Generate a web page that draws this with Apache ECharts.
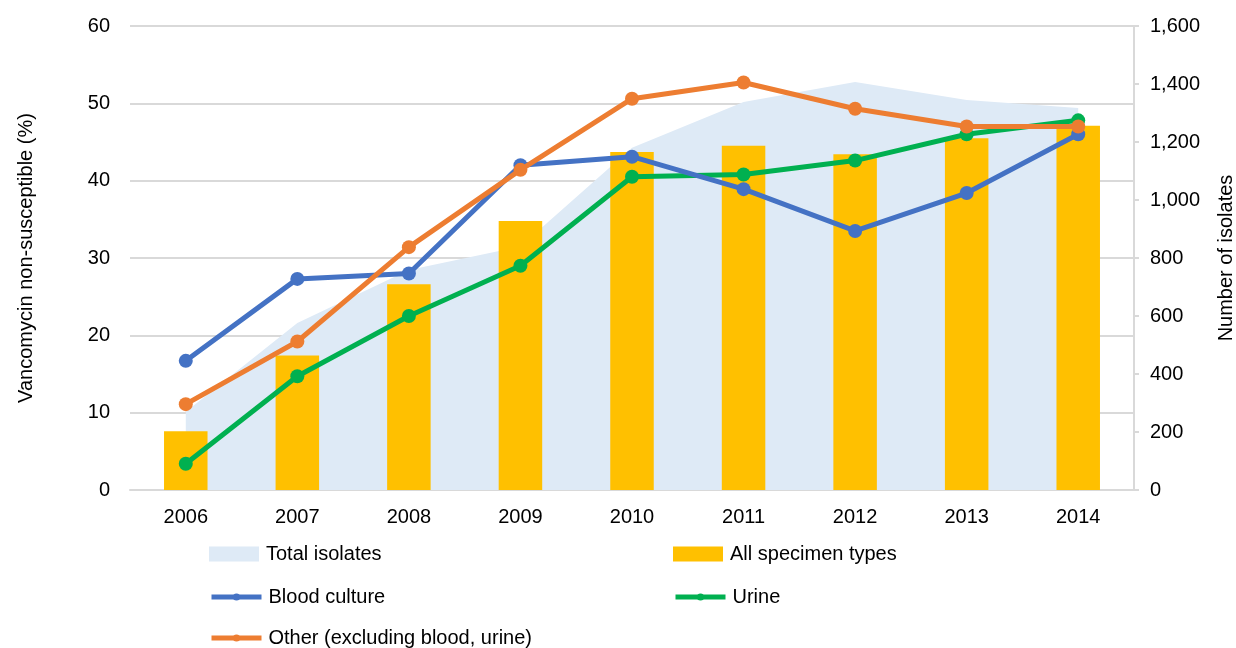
<!DOCTYPE html>
<html>
<head>
<meta charset="utf-8">
<script src="https://cdn.jsdelivr.net/npm/echarts@6/dist/echarts.min.js"></script>
<style>html,body{margin:0;padding:0;background:#fff}#c{width:1236px;height:648px}</style>
</head>
<body>
<div id="c"></div>
<script>
const years = ['2006','2007','2008','2009','2010','2011','2012','2013','2014'];
const totalIsolates = [270, 576, 759, 840, 1180, 1338, 1407, 1345, 1317];
const allSpecimen = [7.6, 17.4, 26.6, 34.8, 43.7, 44.5, 43.4, 45.5, 47.1];
const bloodCulture = [16.7, 27.3, 28.0, 42.0, 43.1, 38.9, 33.5, 38.4, 46.0];
const urine = [3.4, 14.7, 22.5, 29.0, 40.5, 40.8, 42.6, 46.0, 47.8];
const other = [11.1, 19.2, 31.4, 41.4, 50.6, 52.7, 49.3, 47.0, 47.0];
const leftTicks = [0, 60, 10];
const rightTicks = [0, 1600, 200];

const font = 'Liberation Sans, Arial, sans-serif';
const txt = {color:'#000', fontFamily: font, fontSize: 20};
const chart = echarts.init(document.getElementById('c'));
function lg(name, left, top, isRect, color) {
  const o = {data:[{name, icon: isRect ? 'rect' : undefined}], left, top,
    itemWidth: 50, itemHeight: isRect ? 15 : 9, itemGap: 0,
    textStyle: Object.assign({}, txt, {padding:[0,0,0,2]})};
  if (!isRect) o.lineStyle = {width: 5, color};
  return o;
}
const lineSeries = (name, data, color, z) => ({
  name, type:'line', data, yAxisIndex:0, z,
  symbol:'circle', symbolSize: 14,
  lineStyle:{color, width:5}, itemStyle:{color}
});
chart.setOption({
  animation:false,
  textStyle: txt,
  grid:{left:130, right:102, top:26, bottom:158, outerBoundsMode:'none', containLabel:false},
  legend:[
    lg('Total isolates', 204, 539, true),
    lg('All specimen types', 668, 539, true),
    lg('Blood culture', 204, 582, false, '#4472c4'),
    lg('Urine', 668, 582, false, '#00b050'),
    lg('Other (excluding blood, urine)', 204, 623, false, '#ed7d31')
  ],
  xAxis:{type:'category', data: years, boundaryGap:true,
    axisLine:{lineStyle:{color:'#d9d9d9', width:2}}, axisTick:{show:false},
    axisLabel:Object.assign({}, txt, {margin:17})},
  yAxis:[
    {type:'value', min:leftTicks[0], max:leftTicks[1], interval:leftTicks[2],
     name:'Vancomycin non-susceptible (%)', nameLocation:'middle', nameRotate:90, nameGap:94,
     nameTextStyle: txt,
     axisLine:{show:false}, axisTick:{show:false},
     axisLabel:Object.assign({}, txt, {margin:20}),
     splitLine:{lineStyle:{color:'#d9d9d9', width:2}}},
    {type:'value', min:rightTicks[0], max:rightTicks[1], interval:rightTicks[2], position:'right',
     name:'Number of isolates', nameLocation:'middle', nameRotate:90, nameGap:82,
     nameTextStyle: txt,
     axisLine:{show:true, lineStyle:{color:'#d9d9d9', width:2}},
     axisTick:{show:true, length:5, lineStyle:{color:'#d9d9d9', width:2}},
     axisLabel:Object.assign({}, txt, {margin:16, formatter: v => v.toLocaleString('en-US')}),
     splitLine:{show:false}}
  ],
  series:[
    {name:'Total isolates', type:'line', data: totalIsolates, yAxisIndex:1, z:1,
     symbol:'none', lineStyle:{width:0, color:'#deeaf6'}, itemStyle:{color:'#deeaf6'},
     areaStyle:{color:'#deeaf6', opacity:1}},
    {name:'All specimen types', type:'bar', data: allSpecimen, yAxisIndex:0, z:2,
     barWidth:'39%', itemStyle:{color:'#ffc000'}},
    lineSeries('Urine', urine, '#00b050', 3),
    lineSeries('Blood culture', bloodCulture, '#4472c4', 4),
    lineSeries('Other (excluding blood, urine)', other, '#ed7d31', 5)
  ]
});
</script>
</body>
</html>
